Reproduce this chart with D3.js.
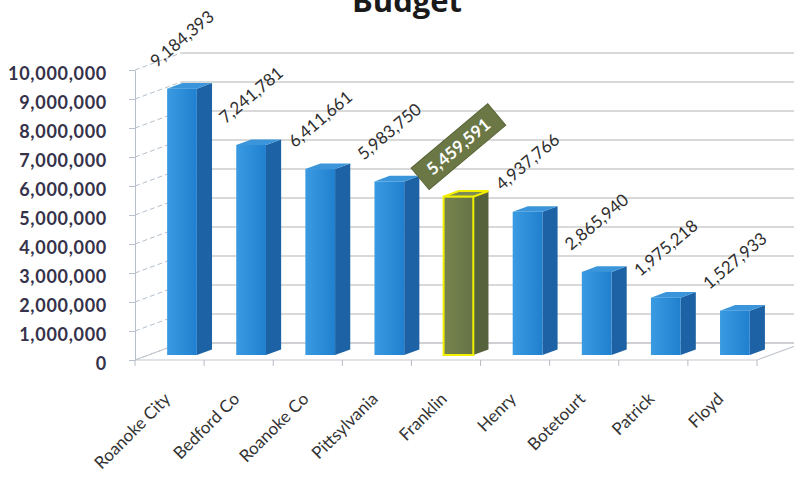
<!DOCTYPE html>
<html>
<head>
<meta charset="utf-8">
<script src="https://cdn.jsdelivr.net/npm/d3@7"></script>
<style>
  body { margin: 0; background: #fff; }
  svg { display: block; }
  .ylab text { font-family: Lato, "Open Sans", sans-serif; font-weight: bold; font-size: 18px; fill: #35324a; letter-spacing: 0.7px; }
</style>
</head>
<body>
<script>
// chart data
var categories = ["Roanoke City", "Bedford Co", "Roanoke Co", "Pittsylvania", "Franklin", "Henry", "Botetourt", "Patrick", "Floyd"];
var budget = [9184393, 7241781, 6411661, 5983750, 5459591, 4937766, 2865940, 1975218, 1527933];
var yTicks = [0, 1000000, 2000000, 3000000, 4000000, 5000000, 6000000, 7000000, 8000000, 9000000, 10000000];
var highlight = "Franklin";

var W = 794, H = 483;
// 3d depth of the plot box (front -> back wall)
var depth = {dx: 46, dy: -17};
var barDepth = 0.33; // share of depth used by bars
var barShift = {dx: 0, dy: -5}; // bars sit a bit behind the front plane

var svg = d3.select("body").append("svg")
    .attr("width", W)
    .attr("height", H);

// gradients for the bar front faces
var defs = svg.append("defs");
var gBlue = defs.append("linearGradient").attr("id", "gBlue");
gBlue.append("stop").attr("offset", "0%").attr("stop-color", "#3a9be2");
gBlue.append("stop").attr("offset", "100%").attr("stop-color", "#2080cf");
var gOlive = defs.append("linearGradient").attr("id", "gOlive");
gOlive.append("stop").attr("offset", "0%").attr("stop-color", "#77844f");
gOlive.append("stop").attr("offset", "100%").attr("stop-color", "#667345");

var x = d3.scaleBand()
    .domain(categories)
    .range([135, 757])
    .padding(0);

var y = d3.scaleLinear()
    .domain([0, 10000000])
    .range([360, 70]);

var bw = x.bandwidth();

// title (partly cut at top, as in the original)
svg.append("text")
    .attr("x", 407)
    .attr("y", 12)
    .attr("text-anchor", "middle")
    .style("font-family", "'Open Sans', sans-serif")
    .style("font-weight", "bold")
    .style("font-size", "31px")
    .style("fill", "#1a1a1a")
    .text("Budget");

// back wall gridlines
svg.selectAll(".grid")
    .data(yTicks)
    .enter().append("line")
    .attr("class", "grid")
    .attr("x1", 135 + depth.dx)
    .attr("x2", W + 20)
    .attr("y1", function(d) { return y(d) + depth.dy; })
    .attr("y2", function(d) { return y(d) + depth.dy; })
    .style("stroke", "#b4b4b4")
    .style("stroke-width", 1.2);

// side wall gridlines
svg.selectAll(".side")
    .data(yTicks)
    .enter().append("line")
    .attr("class", "side")
    .attr("x1", 135)
    .attr("x2", 135 + depth.dx)
    .attr("y1", function(d) { return y(d); })
    .attr("y2", function(d) { return y(d) + depth.dy; })
    .style("stroke", "#b4c0cc")
    .style("stroke-dasharray", "5,3")
    .style("stroke-width", 1);

// floor
var x0 = x.range()[0], x1 = x.range()[1], y0 = y(0);
svg.append("path")
    .attr("d", "M" + x0 + "," + y0 + "L" + x1 + "," + y0 +
               "L" + (x1 + depth.dx) + "," + (y0 + depth.dy) +
               "L" + (x0 + depth.dx) + "," + (y0 + depth.dy) + "Z")
    .style("fill", "none")
    .style("stroke", "#c4c8d0")
    .style("stroke-width", 1.2);

// x ticks at band edges
var edges = categories.map(function(c) { return x(c); }).concat([x1]);
svg.selectAll(".xtick")
    .data(edges)
    .enter().append("line")
    .attr("x1", function(d) { return d; })
    .attr("x2", function(d) { return d; })
    .attr("y1", y0)
    .attr("y2", y0 + 6)
    .style("stroke", "#b8bcc4");

// y axis
var yAxis = svg.append("g")
    .attr("class", "ylab")
    .attr("transform", "translate(135,0)")
    .call(d3.axisLeft(y).tickValues(yTicks).tickFormat(d3.format(",")).tickSize(6).tickSizeOuter(0).tickPadding(22));
yAxis.select(".domain").style("stroke", "#b8c0cc");
yAxis.selectAll(".tick line").style("stroke", "#b8c0cc");
yAxis.selectAll(".tick text").attr("dy", "0.55em");

// bars
var bd = {dx: depth.dx * barDepth, dy: depth.dy * barDepth};
var bars = svg.append("g")
    .attr("transform", "translate(" + barShift.dx + "," + barShift.dy + ")");

var bar = bars.selectAll(".bar")
    .data(categories)
    .enter().append("g")
    .attr("class", "bar");

function bx(c) { return x(c) + bw * 0.465; }
var bwid = bw * 0.43;

function colors(c) {
  if (c === highlight) return {front: "url(#gOlive)", side: "#56623b", top: "#7d8b56", stroke: "#f2f000"};
  return {front: "url(#gBlue)", side: "#1d62a4", top: "#3a95da", stroke: "none"};
}

bar.append("path")
    .attr("d", function(c, i) {
      var l = bx(c) + bwid, t = y(budget[i]), b = y(0);
      return "M" + l + "," + t + "L" + (l + bd.dx) + "," + (t + bd.dy) +
             "L" + (l + bd.dx) + "," + (b + bd.dy) + "L" + l + "," + b + "Z";
    })
    .style("fill", function(c) { return colors(c).side; });

bar.append("path")
    .attr("d", function(c, i) {
      var l = bx(c), r = l + bwid, t = y(budget[i]);
      return "M" + l + "," + t + "L" + r + "," + t + "L" + (r + bd.dx) + "," + (t + bd.dy) +
             "L" + (l + bd.dx) + "," + (t + bd.dy) + "Z";
    })
    .style("fill", function(c) { return colors(c).top; })
    .style("stroke", function(c) { return colors(c).stroke; })
    .style("stroke-width", 2);

bar.append("rect")
    .attr("x", function(c) { return bx(c); })
    .attr("y", function(c, i) { return y(budget[i]); })
    .attr("width", bwid)
    .attr("height", function(c, i) { return y(0) - y(budget[i]); })
    .style("fill", function(c) { return colors(c).front; })
    .style("stroke", function(c) { return colors(c).stroke; })
    .style("stroke-width", 2);

// value labels
var fmt = d3.format(",");
var lab = bars.selectAll(".vlab")
    .data(categories)
    .enter().append("g")
    .attr("class", "vlab")
    .attr("transform", function(c, i) {
      return "translate(" + (bx(c) + bwid / 2) + "," + (y(budget[i]) - 50) + ") rotate(-40)";
    });

lab.filter(function(c) { return c === highlight; })
    .append("rect")
    .attr("x", -50)
    .attr("y", -14)
    .attr("width", 100)
    .attr("height", 28)
    .style("fill", "#6b7846")
    .style("stroke", "#5b6639");

lab.append("text")
    .attr("text-anchor", "middle")
    .attr("dy", "0.35em")
    .style("font-family", "Lato, sans-serif")
    .style("font-size", "17px")
    .style("font-weight", function(c) { return c === highlight ? "bold" : "normal"; })
    .style("fill", function(c) { return c === highlight ? "#ffffff" : "#2e2e2e"; })
    .text(function(c, i) { return fmt(budget[i]); });

// category labels
svg.selectAll(".xlab")
    .data(categories)
    .enter().append("text")
    .attr("class", "xlab")
    .attr("text-anchor", "end")
    .attr("transform", function(c) {
      return "translate(" + (x(c) + bw / 2 + 2) + "," + 400 + ") rotate(-45)";
    })
    .style("font-family", "Lato, sans-serif")
    .style("font-size", "17px")
    .style("fill", "#333333")
    .text(function(c) { return c; });
</script>
</body>
</html>
